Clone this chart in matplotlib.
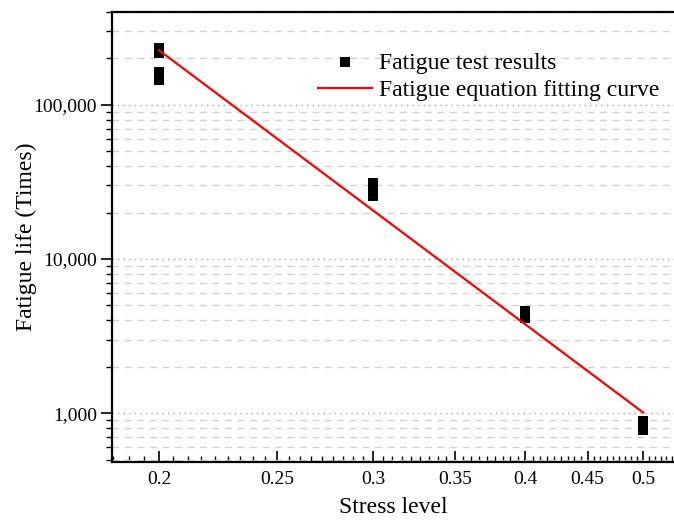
import numpy as np
import matplotlib
matplotlib.use('Agg')
from matplotlib import pyplot as plt
from matplotlib.ticker import FixedLocator, FuncFormatter, LogLocator, NullFormatter

plt.rcParams['font.family'] = ['Liberation Serif', 'DejaVu Serif']

# Test data
stress = [0.2, 0.2, 0.2, 0.2, 0.3, 0.3, 0.3, 0.3, 0.4, 0.4, 0.4, 0.5, 0.5, 0.5]
life = [232000, 218000, 164000, 144000, 31300, 29200, 27300, 25700, 4600, 4380, 4150, 890, 830, 775]

# Fitted curve (straight line on log-log axes)
fit_stress = [0.2, 0.5]
fit_life = [226000, 1010]

x_ticks = [0.2, 0.25, 0.3, 0.35, 0.4, 0.45, 0.5]
x_tick_labels = ['0.2', '0.25', '0.3', '0.35', '0.4', '0.45', '0.5']
y_ticks = [1000, 10000, 100000]
y_tick_labels = ['1,000', '10,000', '100,000']

fig = plt.figure(figsize=(6.74, 5.22), dpi=100)
ax = fig.add_axes([0.1662, 0.1155, 0.8338, 0.8615])

ax.set_xscale('log')
ax.set_yscale('log')

# grid lines (horizontal only)
ax.yaxis.set_minor_locator(LogLocator(base=10, subs=np.arange(2, 10)))
ax.grid(True, axis='y', which='minor', color='#d3d3d3', linestyle=(0, (5, 4)), linewidth=1.0)
ax.grid(True, axis='y', which='major', color='#a8a8a8', linestyle=(0, (1, 3)), linewidth=1.0)
ax.set_axisbelow(True)

ax.scatter(stress, life, marker='s', s=48, color='black', zorder=3, label='Fatigue test results', linewidths=0)
ax.plot(fit_stress, fit_life, color='red', linewidth=1.6, zorder=4, label='Fatigue equation fitting curve')

ax.set_xlim(0.183, 0.53)
ax.set_ylim(485, 400000)

ax.xaxis.set_major_locator(FixedLocator(x_ticks))
ax.xaxis.set_major_formatter(FuncFormatter(lambda v, p: x_tick_labels[x_ticks.index(round(v, 2))] if round(v, 2) in x_ticks else ''))
ax.xaxis.set_minor_locator(FixedLocator(np.arange(0.15, 0.56, 0.05 / 9)))
ax.xaxis.set_minor_formatter(NullFormatter())

ax.yaxis.set_major_locator(FixedLocator(y_ticks))
ax.set_yticklabels(y_tick_labels)
ax.yaxis.set_minor_formatter(NullFormatter())

ax.tick_params(axis='x', which='major', direction='in', length=8, width=1.2, labelsize=14, pad=7)
ax.tick_params(axis='x', which='minor', direction='in', length=4, width=1.0)
ax.tick_params(axis='y', which='major', direction='out', length=8, width=1.2, labelsize=14, pad=3)
ax.tick_params(axis='y', which='minor', direction='out', length=4, width=1.0)

for s in ['left', 'bottom', 'top']:
    ax.spines[s].set_linewidth(1.6)
ax.spines['right'].set_visible(False)

ax.set_xlabel('Stress level', fontsize=17, labelpad=6)
ax.set_ylabel('Fatigue life (Times)', fontsize=17, labelpad=-3)

leg = ax.legend(loc='upper left', bbox_to_anchor=(0.366, 0.911), frameon=False, fontsize=17,
                handlelength=2.3, handletextpad=0.3, labelspacing=0.25, borderpad=0, borderaxespad=0,
                scatterpoints=1)

fig.savefig('out.png', dpi=100)
